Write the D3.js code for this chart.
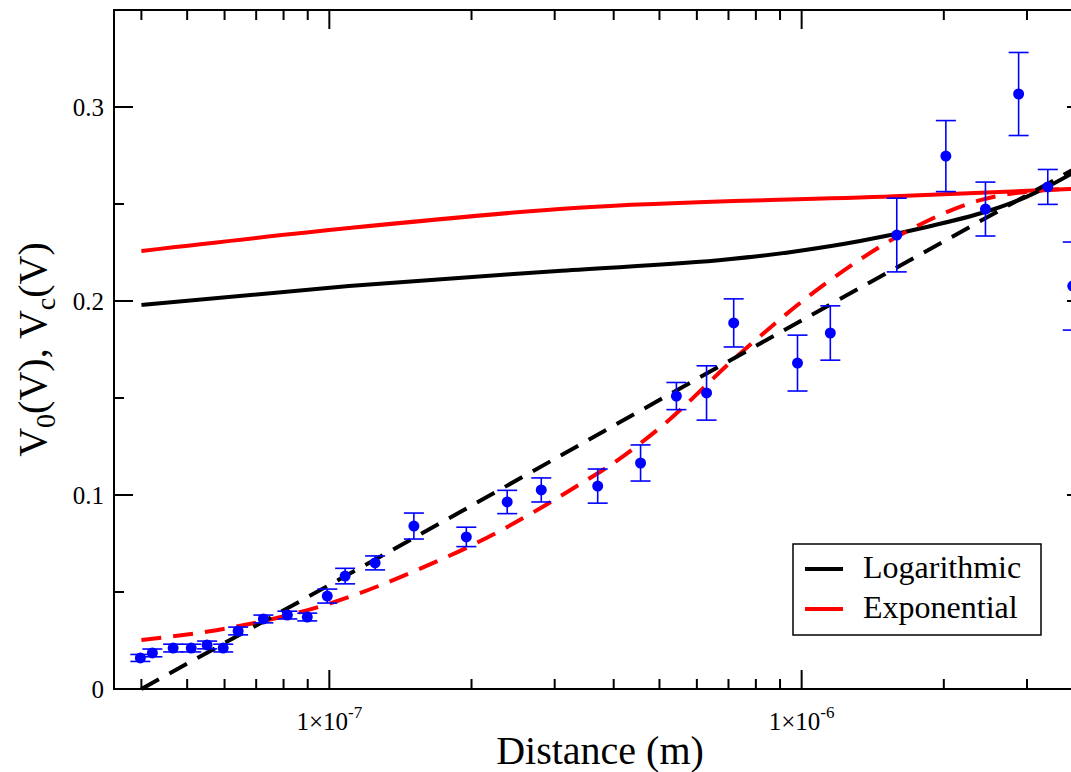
<!DOCTYPE html>
<html>
<head>
<meta charset="utf-8">
<script src="https://cdn.jsdelivr.net/npm/d3@7/dist/d3.min.js"></script>
<style>
  html, body { margin: 0; padding: 0; background: #fff; }
  svg { display: block; }
  text { font-family: "Liberation Serif", "Times New Roman", serif; fill: #000; }
</style>
</head>
<body>
<svg id="chart" width="1071" height="772"></svg>
<script>
// Measured potentials versus distance
const distance = [3.98e-8, 4.22e-8, 4.67e-8, 5.10e-8, 5.51e-8, 5.96e-8, 6.41e-8, 7.25e-8, 8.15e-8, 8.98e-8,
                  9.9e-8, 1.08e-7, 1.25e-7, 1.51e-7, 1.95e-7, 2.38e-7, 2.81e-7, 3.70e-7, 4.56e-7, 5.43e-7,
                  6.29e-7, 7.18e-7, 9.8e-7, 1.15e-6, 1.59e-6, 2.02e-6, 2.45e-6, 2.88e-6, 3.32e-6, 3.75e-6];
const voltage  = [0.016, 0.0186, 0.0211, 0.0211, 0.0227, 0.0211, 0.0299, 0.0361, 0.0381, 0.0371,
                  0.0479, 0.0582, 0.065, 0.084, 0.0784, 0.0964, 0.1026, 0.1046, 0.1165, 0.151,
                  0.1526, 0.1887, 0.168, 0.1835, 0.234, 0.2747, 0.2474, 0.3067, 0.2588, 0.2077];
const voltageErr = [0.0018, 0.002, 0.002, 0.002, 0.002, 0.002, 0.002, 0.002, 0.002, 0.002,
                    0.0036, 0.004, 0.0036, 0.0067, 0.005, 0.006, 0.0062, 0.0088, 0.0093, 0.007,
                    0.014, 0.0124, 0.0144, 0.014, 0.019, 0.0183, 0.0139, 0.0214, 0.009, 0.0227];

// Logarithmic model: V_c (solid) and V_0 (dashed)
const logVcX = [4.0e-8, 1.1e-7, 3.1e-7, 7.0e-7, 9.6e-7, 1.33e-6, 1.85e-6, 2.55e-6, 3.0e-6, 3.72e-6, 4.0e-6];
const logVcY = [0.198, 0.2077, 0.2156, 0.2215, 0.2254, 0.2309, 0.2383, 0.2473, 0.2538, 0.2655, 0.27];
const logV0X = [4.0e-8, 1.0e-7, 1.0e-6, 4.0e-6];
const logV0Y = [0.0, 0.0536, 0.19, 0.2714];

// Exponential model: V_c (solid) and V_0 (dashed)
const expVcX = [4.0e-8, 1.1e-7, 3.3e-7, 1.57e-6, 3.7e-6, 4.0e-6];
const expVcY = [0.2258, 0.2376, 0.248, 0.254, 0.2577, 0.258];
const expV0X = [4.0e-8, 6.3e-8, 1.0e-7, 1.66e-7, 2.0e-7, 2.7e-7, 3.24e-7, 4.08e-7, 5.03e-7, 7.43e-7,
                1.15e-6, 1.645e-6, 2.39e-6, 3.21e-6, 4.0e-6];
const expV0Y = [0.0253, 0.032, 0.044, 0.065, 0.074, 0.091, 0.1026, 0.118, 0.135, 0.1732,
                0.2108, 0.235, 0.252, 0.257, 0.258];

// Axes
const xDomain = [3.5e-8, 4.0e-6];
const yDomain = [0, 0.35];
const xMajorTicks = [1e-7, 1e-6];
const xTickExponents = ["-7", "-6"];
const yMajorTicks = [0, 0.1, 0.2, 0.3];
const yTickLabels = ["0", "0.1", "0.2", "0.3"];
const yMinorTicks = [0.05, 0.15, 0.25];
const legendLabels = ["Logarithmic", "Exponential"];
const legendColors = ["#000000", "#ff0000"];

const svg = d3.select("#chart");
const plotLeft = 114, plotRight = 1086, plotTop = 10, plotBottom = 689;

const x = d3.scaleLog().domain(xDomain).range([plotLeft, plotRight]);
const y = d3.scaleLinear().domain(yDomain).range([plotBottom, plotTop]);

// minor x ticks: 2..9 times each decade inside the domain
const xMinorTicks = x.ticks().filter(v => !xMajorTicks.some(m => Math.abs(m - v) / m < 1e-6));

const majorLen = 19, minorLen = 10;
const axisG = svg.append("g").attr("stroke", "#000").attr("stroke-width", 2).attr("fill", "none");

// ticks pointing inward on all four sides
function xTick(v, len) {
  axisG.append("line").attr("x1", x(v)).attr("x2", x(v)).attr("y1", plotBottom).attr("y2", plotBottom - len);
  axisG.append("line").attr("x1", x(v)).attr("x2", x(v)).attr("y1", plotTop).attr("y2", plotTop + len);
}
function yTick(v, len) {
  axisG.append("line").attr("x1", plotLeft).attr("x2", plotLeft + len).attr("y1", y(v)).attr("y2", y(v));
  axisG.append("line").attr("x1", plotRight).attr("x2", plotRight - len).attr("y1", y(v)).attr("y2", y(v));
}
xMajorTicks.forEach(v => xTick(v, majorLen));
xMinorTicks.forEach(v => xTick(v, minorLen));
yMajorTicks.forEach(v => yTick(v, majorLen));
yMinorTicks.forEach(v => yTick(v, minorLen));

// y tick labels
svg.append("g").selectAll("text").data(yMajorTicks).join("text")
  .attr("x", plotLeft - 10).attr("y", d => y(d) + 9)
  .attr("text-anchor", "end").attr("font-size", 25)
  .text((d, i) => yTickLabels[i]);

// x tick labels: 1×10^n
const xl = svg.append("g").selectAll("text").data(xMajorTicks).join("text")
  .attr("x", d => x(d)).attr("y", 730)
  .attr("text-anchor", "middle").attr("font-size", 25);
xl.append("tspan").text("1×10");
xl.append("tspan").attr("font-size", 17).attr("dy", -12).text((d, i) => xTickExponents[i]);

// axis titles
svg.append("text").attr("x", (plotLeft + plotRight) / 2).attr("y", 764)
  .attr("text-anchor", "middle").attr("font-size", 40).text("Distance (m)");

const yt = svg.append("text")
  .attr("transform", `translate(46, ${(plotTop + plotBottom) / 2}) rotate(-90)`)
  .attr("text-anchor", "middle").attr("font-size", 40);
yt.append("tspan").text("V");
yt.append("tspan").attr("font-size", 28).attr("dy", 9).text("0");
yt.append("tspan").attr("dy", -9).text("(V), V");
yt.append("tspan").attr("font-size", 28).attr("dy", 9).text("c");
yt.append("tspan").attr("dy", -9).text("(V)");

// model curves
const line = d3.line().x(d => x(d[0])).y(d => y(d[1])).curve(d3.curveMonotoneX);
const zip = (a, b) => a.map((v, i) => [v, b[i]]);
const curves = [
  { pts: zip(expVcX, expVcY), color: "#ff0000", dash: null },
  { pts: zip(logVcX, logVcY), color: "#000000", dash: null },
  { pts: zip(expV0X, expV0Y), color: "#ff0000", dash: "20,12" },
  { pts: zip(logV0X, logV0Y), color: "#000000", dash: "20,12" }
];
svg.append("g").selectAll("path").data(curves).join("path")
  .attr("d", d => line(d.pts))
  .attr("fill", "none")
  .attr("stroke", d => d.color)
  .attr("stroke-width", 4)
  .attr("stroke-dasharray", d => d.dash);

// data points with error bars
const pts = zip(distance, voltage).map((p, i) => ({ x: p[0], v: p[1], e: voltageErr[i] }));
const eb = svg.append("g").attr("stroke", "#0000ff").attr("stroke-width", 1.6);
pts.forEach(p => {
  const cx = x(p.x), y1 = y(p.v + p.e), y2 = y(p.v - p.e);
  eb.append("line").attr("x1", cx).attr("x2", cx).attr("y1", y1).attr("y2", y2);
  eb.append("line").attr("x1", cx - 10).attr("x2", cx + 10).attr("y1", y1).attr("y2", y1);
  eb.append("line").attr("x1", cx - 10).attr("x2", cx + 10).attr("y1", y2).attr("y2", y2);
});
svg.append("g").selectAll("circle").data(pts).join("circle")
  .attr("cx", d => x(d.x)).attr("cy", d => y(d.v)).attr("r", 5.5)
  .attr("fill", "#0000ff");

// frame
svg.append("rect").attr("x", plotLeft).attr("y", plotTop)
  .attr("width", plotRight - plotLeft).attr("height", plotBottom - plotTop)
  .attr("fill", "none").attr("stroke", "#000").attr("stroke-width", 2);

// legend
const lg = svg.append("g");
lg.append("rect").attr("x", 793).attr("y", 544).attr("width", 248).attr("height", 91)
  .attr("fill", "#fff").attr("stroke", "#000").attr("stroke-width", 1.5);
legendLabels.forEach((name, i) => {
  const ly = 569 + i * 40;
  lg.append("line").attr("x1", 805).attr("x2", 843).attr("y1", ly).attr("y2", ly)
    .attr("stroke", legendColors[i]).attr("stroke-width", 4);
  lg.append("text").attr("x", 863).attr("y", ly + 9).attr("font-size", 32).text(name);
});
</script>
</body>
</html>
